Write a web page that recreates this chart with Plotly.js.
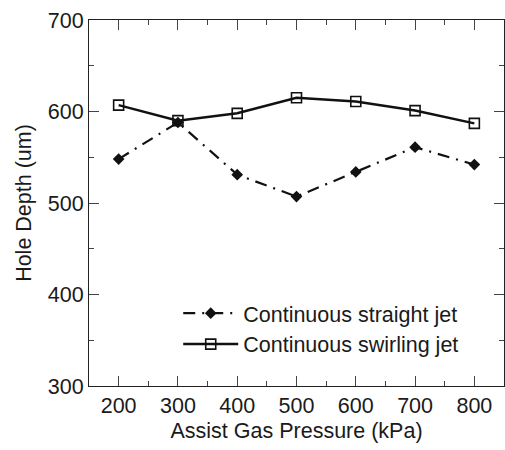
<!DOCTYPE html>
<html>
<head>
<meta charset="utf-8">
<script src="https://cdn.plot.ly/plotly-3.0.1.min.js"></script>
<style>html,body{margin:0;padding:0;background:#fff;}#chart{width:505px;height:450px;}</style>
</head>
<body>
<div id="chart"></div>
<script>
const pressure = [200, 300, 400, 500, 600, 700, 800];
const straightJet = [548, 588, 531, 507, 534, 561, 542];
const swirlingJet = [607, 590, 598, 615, 611, 601, 587];
const seriesNames = ["Continuous straight jet", "Continuous swirling jet"];
const xTickVals = [200, 300, 400, 500, 600, 700, 800];
const yTickVals = [300, 400, 500, 600, 700];

const font = {family: "Liberation Sans, Arial, sans-serif", size: 21.5, color: "#1a1a1a"};

const traces = [
  {
    x: pressure, y: straightJet, name: seriesNames[0],
    type: "scatter", mode: "lines+markers",
    line: {color: "#111", width: 2.2, dash: "12px,7px,2px,7px"},
    marker: {symbol: "diamond", size: 9, color: "#111"}
  },
  {
    x: pressure, y: swirlingJet, name: seriesNames[1],
    type: "scatter", mode: "lines+markers",
    line: {color: "#111", width: 2.5},
    marker: {symbol: "square-open", size: 10, color: "#111", line: {width: 1.6, color: "#111"}}
  }
];

const axisCommon = {
  showgrid: false, zeroline: false,
  showline: true, linecolor: "#222", linewidth: 1,
  mirror: "ticks", ticks: "inside", ticklen: 10, tickwidth: 1, tickcolor: "#444",
  tickfont: font,
  minor: {ticks: "inside", ticklen: 5, tickwidth: 1, tickcolor: "#444", showgrid: false}
};

const layout = {
  width: 505, height: 450,
  margin: {l: 89, r: 1, t: 20, b: 64},
  paper_bgcolor: "#fff", plot_bgcolor: "#fff",
  font: font,
  showlegend: true,
  legend: {
    x: 0.215, y: 0.255, xanchor: "left", yanchor: "top",
    bgcolor: "rgba(0,0,0,0)", borderwidth: 0,
    font: font,
    tracegroupgap: 0, itemwidth: 55
  },
  xaxis: Object.assign({}, axisCommon, {
    range: [150, 850], tickvals: xTickVals,
    minor: Object.assign({}, axisCommon.minor, {dtick: 50, tick0: 150}),
    title: {text: "Assist Gas Pressure (kPa)", font: font, standoff: 6}
  }),
  yaxis: Object.assign({}, axisCommon, {
    range: [300, 700], tickvals: yTickVals,
    minor: Object.assign({}, axisCommon.minor, {dtick: 50, tick0: 300}),
    title: {text: "Hole Depth (um)", font: font, standoff: 10}
  })
};

Plotly.newPlot("chart", traces, layout, {displayModeBar: false, staticPlot: true});
</script>
</body>
</html>
